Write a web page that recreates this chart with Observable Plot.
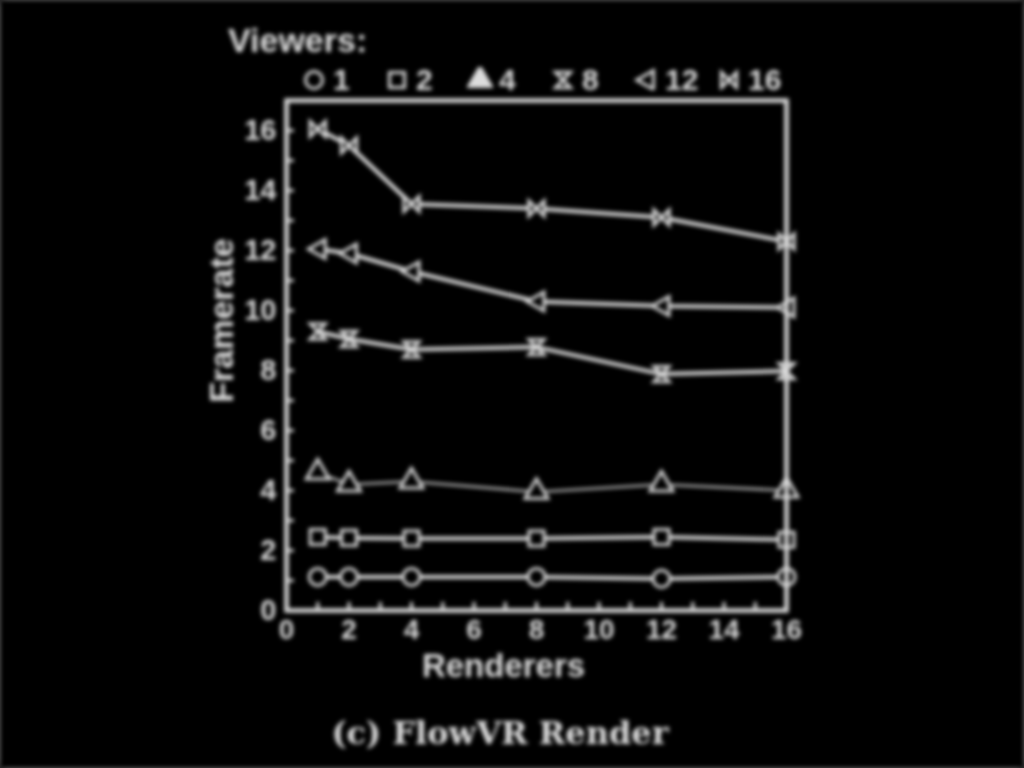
<!DOCTYPE html>
<html>
<head>
<meta charset="utf-8">
<script src="https://cdn.jsdelivr.net/npm/d3@7"></script>
<script src="https://cdn.jsdelivr.net/npm/@observablehq/plot@0.6"></script>
<style>
  html, body { margin: 0; padding: 0; background: #000; }
  #page { position: relative; width: 1024px; height: 768px; background: #000; overflow: hidden;
          filter: blur(2.3px) drop-shadow(0 0 4px rgba(255,255,255,0.8)); }
  .txt { position: absolute; color: #ddd; font-family: "Liberation Sans", Arial, sans-serif; font-weight: bold; white-space: nowrap; }
  #title { left: 228px; top: 21px; font-size: 34px; }
  #legend { position: absolute; left: 301px; top: 63px; display: flex; }
  .item { width: 83px; display: flex; align-items: center; color: #ddd; font-family: "Liberation Sans", Arial, sans-serif; font-weight: bold; font-size: 30px; }
  .item svg { margin-right: 6px; }
  #chart { position: absolute; left: 0; top: 90px; }
  #caption { left: 0; width: 1000px; text-align: center; top: 714px; font-family: "DejaVu Serif", "Liberation Serif", serif; font-size: 32px; }
</style>
</head>
<body>
<div id="page">
  <div id="title" class="txt">Viewers:</div>
  <div id="legend"></div>
  <div id="chart"></div>
  <div id="caption" class="txt">(c) FlowVR Render</div>
</div>
<script>
// ---- data ----
const renderers = [1, 2, 4, 8, 12, 16];
const viewerCounts = ["1", "2", "4", "8", "12", "16"];
const fps1  = [1.12, 1.12, 1.12, 1.12, 1.06, 1.12];
const fps2  = [2.45, 2.42, 2.40, 2.40, 2.45, 2.36];
const fps4  = [4.60, 4.20, 4.30, 3.95, 4.20, 4.00];
const fps8  = [9.30, 9.05, 8.70, 8.78, 7.88, 7.98];
const fps12 = [12.05, 11.90, 11.30, 10.30, 10.15, 10.10];
const fps16 = [16.05, 15.50, 13.55, 13.40, 13.10, 12.30];
const xTickLabels = [0, 2, 4, 6, 8, 10, 12, 14, 16];
const yTickLabels = [0, 2, 4, 6, 8, 10, 12, 14, 16];
const xMinorTicks = d3.range(1, 16);
const yMinorTicks = d3.range(1, 17);

// ---- custom symbols ----
const rad = size => Math.sqrt(size / Math.PI);
const triLeft = { draw(ctx, size) { const r = rad(size) * 1.1; ctx.moveTo(-r, 0); ctx.lineTo(r * 0.8, -r); ctx.lineTo(r * 0.8, r); ctx.closePath(); } };
const bowtie = { draw(ctx, size) { const r = rad(size) * 0.9; ctx.moveTo(-r, -r); ctx.lineTo(r, r); ctx.lineTo(r, -r); ctx.lineTo(-r, r); ctx.closePath(); } };
const hourglass = { draw(ctx, size) { const r = rad(size) * 0.9; ctx.moveTo(-r, -r); ctx.lineTo(r, -r); ctx.lineTo(-r, r); ctx.lineTo(r, r); ctx.closePath(); } };
const symbols = [d3.symbolCircle, d3.symbolSquare, d3.symbolTriangle, hourglass, triLeft, bowtie];
const seriesValues = [fps1, fps2, fps4, fps8, fps12, fps16];
const lineWidths = [4, 4, 2.2, 4, 4, 4];

const series = viewerCounts.map((v, i) => ({
  name: v, symbol: symbols[i], width: lineWidths[i],
  data: renderers.map((x, j) => ({x, y: seriesValues[i][j]}))
}));

const fg = "#dcdcdc";
const marks = [];
for (const s of series) {
  marks.push(Plot.line(s.data, {x: "x", y: "y", stroke: fg, strokeWidth: s.width}));
}
for (const s of series) {
  marks.push(Plot.dot(s.data, {x: "x", y: "y", symbol: s.symbol, r: 8.5, fill: "black", stroke: fg, strokeWidth: 3}));
}
// inward ticks
const tickLenY = 0.27, tickLenX = 0.25;
marks.push(Plot.ruleX(xMinorTicks, {x: d => d, y1: 0, y2: tickLenY, stroke: fg, strokeWidth: 3}));
marks.push(Plot.ruleY(yMinorTicks, {y: d => d, x1: 0, x2: tickLenX, stroke: fg, strokeWidth: 3}));
marks.push(Plot.frame({stroke: fg, strokeWidth: 4.5}));
marks.push(Plot.axisX(xTickLabels, {tickSize: 0, tickPadding: 9, label: null, fontSize: 28}));
marks.push(Plot.axisY(yTickLabels, {tickSize: 0, tickPadding: 10, label: null, fontSize: 29}));
marks.push(Plot.text(["Renderers"], {text: d => d, frameAnchor: "bottom", dx: -33, dy: 66, fontSize: 33, fill: fg}));
marks.push(Plot.text(["Framerate"], {text: d => d, frameAnchor: "left", textAnchor: "middle", rotate: -90, dx: -64, dy: -35, fontSize: 34, fill: fg}));

const chart = Plot.plot({
  width: 1024, height: 600,
  marginLeft: 286, marginRight: 238, marginTop: 10, marginBottom: 80,
  x: {domain: [0, 16]},
  y: {domain: [0, 17]},
  style: {background: "black", color: fg, fontFamily: "Liberation Sans, Arial, sans-serif", fontWeight: "bold", fontSize: "29px"},
  marks
});
document.getElementById("chart").appendChild(chart);

// legend
const legend = d3.select("#legend");
series.forEach(s => {
  const item = legend.append("div").attr("class", "item");
  const svg = item.append("svg").attr("width", 26).attr("height", 26);
  svg.append("path").attr("transform", "translate(13,13)")
    .attr("d", d3.symbol().type(s.symbol).size(72 * Math.PI)())
    .attr("fill", s.name === "4" ? fg : "black").attr("stroke", fg).attr("stroke-width", 3);
  item.append("span").text(s.name);
});
</script>
</body>
</html>
